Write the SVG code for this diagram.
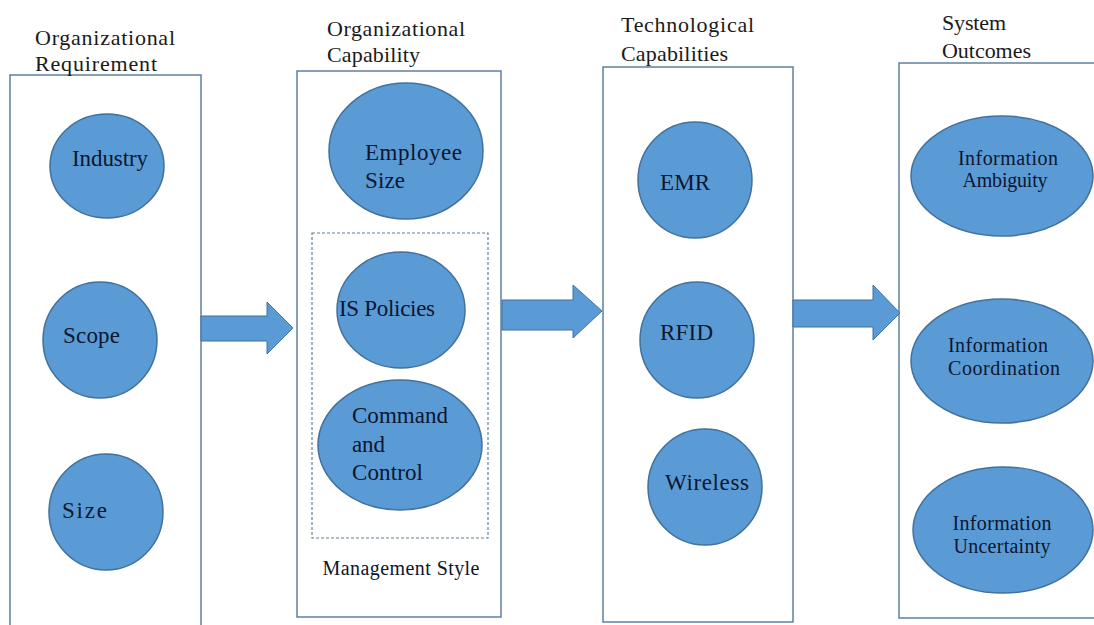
<svg xmlns="http://www.w3.org/2000/svg" width="1094" height="625" viewBox="0 0 1094 625">
<style>
.box{fill:#fff;stroke:#5f7f9f;stroke-width:1.5}
.dash{fill:none;stroke:#5f7f9f;stroke-width:1.2;stroke-dasharray:3 2}
.node{fill:#5b9bd5;stroke:#41719c;stroke-width:1.5}
.arrow{fill:#5b9bd5;stroke:#41719c;stroke-width:1}
text{font-family:'Liberation Serif','Times New Roman',serif}
.title{font-size:22px;fill:#1a1a1a}
.lab{font-size:23px;fill:#0c1630}
.sm{font-size:20px;fill:#0c1630}
</style>
<rect width="1094" height="625" fill="#fff"/>
<g id="col-requirement">
<rect class="box" x="10" y="75" width="191" height="570"/>
<text class="title" x="35" y="45" textLength="140">Organizational</text>
<text class="title" x="35" y="71" textLength="122">Requirement</text>
</g>
<g id="col-capability">
<rect class="box" x="297" y="71" width="204" height="546"/>
<text class="title" x="327" y="36" textLength="138">Organizational</text>
<text class="title" x="327" y="62" textLength="93">Capability</text>
</g>
<g id="col-tech">
<rect class="box" x="603" y="67" width="190" height="555"/>
<text class="title" x="621" y="32" textLength="133">Technological</text>
<text class="title" x="621" y="61" textLength="107">Capabilities</text>
</g>
<g id="col-outcomes">
<rect class="box" x="899" y="63" width="210" height="555"/>
<text class="title" x="942" y="30" textLength="64">System</text>
<text class="title" x="942" y="58" textLength="89">Outcomes</text>
</g>
<g id="management-style">
<rect class="dash" x="312" y="233" width="176" height="305"/>
<text class="sm" x="401" y="575" text-anchor="middle" textLength="157">Management Style</text>
</g>
<g id="connectors">
<path class="arrow" d="M201,316 H267 V302 L293,328 L267,354 V341 H201 Z"/>
<path class="arrow" d="M502,300 H573 V285 L602,311 L573,338 V330 H502 Z"/>
<path class="arrow" d="M793,300 H873 V285 L900,313 L873,340 V327 H793 Z"/>
</g>
<g id="industry"><ellipse class="node" cx="107" cy="166" rx="57" ry="52"/><text class="lab" x="72" y="166" textLength="76">Industry</text></g>
<g id="scope"><ellipse class="node" cx="100" cy="340" rx="57" ry="58"/><text class="lab" x="63" y="343" textLength="57">Scope</text></g>
<g id="size"><ellipse class="node" cx="106" cy="512" rx="57" ry="58"/><text class="lab" x="62" y="518" textLength="45">Size</text></g>
<g id="employee-size"><ellipse class="node" cx="406" cy="151" rx="77" ry="68"/><text class="lab" x="365" y="160" textLength="97">Employee</text><text class="lab" x="365" y="188" textLength="40">Size</text></g>
<g id="is-policies"><ellipse class="node" cx="401" cy="310" rx="64" ry="58"/><text class="lab" x="339" y="316" textLength="96">IS Policies</text></g>
<g id="command-control"><ellipse class="node" cx="400" cy="445" rx="82" ry="65"/><text class="lab" x="352" y="423" textLength="96">Command</text><text class="lab" x="352" y="452" textLength="33">and</text><text class="lab" x="352" y="480" textLength="71">Control</text></g>
<g id="emr"><ellipse class="node" cx="695" cy="180" rx="57" ry="58"/><text class="lab" x="660" y="190" textLength="50">EMR</text></g>
<g id="rfid"><ellipse class="node" cx="697" cy="340" rx="57" ry="58"/><text class="lab" x="660" y="340" textLength="53">RFID</text></g>
<g id="wireless"><ellipse class="node" cx="705" cy="487" rx="57" ry="58"/><text class="lab" x="665" y="490" textLength="84">Wireless</text></g>
<g id="info-ambiguity"><ellipse class="node" cx="1002" cy="176" rx="91" ry="60"/><text class="sm" x="1008" y="165" text-anchor="middle" textLength="100">Information</text><text class="sm" x="1005" y="187" text-anchor="middle" textLength="85">Ambiguity</text></g>
<g id="info-coordination"><ellipse class="node" cx="1002" cy="361" rx="91" ry="62"/><text class="sm" x="998" y="352" text-anchor="middle" textLength="100">Information</text><text class="sm" x="1004" y="375" text-anchor="middle" textLength="112">Coordination</text></g>
<g id="info-uncertainty"><ellipse class="node" cx="1003" cy="530" rx="90" ry="63"/><text class="sm" x="1002" y="530" text-anchor="middle" textLength="99">Information</text><text class="sm" x="1002" y="553" text-anchor="middle" textLength="97">Uncertainty</text></g>
</svg>
